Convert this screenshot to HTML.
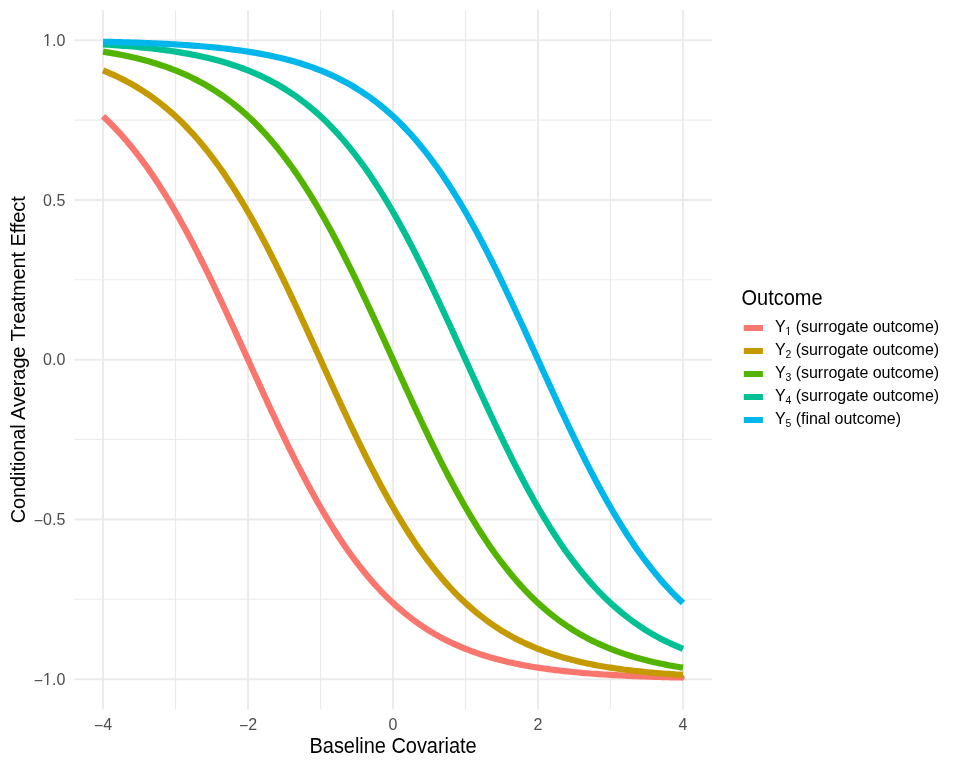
<!DOCTYPE html>
<html><head><meta charset="utf-8"><title>plot</title>
<style>
html,body{margin:0;padding:0;background:#fff;}
body{width:959px;height:767px;overflow:hidden;font-family:"Liberation Sans",sans-serif;}
svg{display:block;will-change:transform;font-variant-ligatures:none;font-kerning:normal;font-family:"Liberation Sans",sans-serif;}
.at{font-size:16px;fill:#4D4D4D;}
.ti{font-size:20px;fill:#000;}
.lt{font-size:16px;fill:#000;}
</style></head><body>
<svg width="959" height="767" viewBox="0 0 959 767">
<rect width="959" height="767" fill="#fff"/>

<g stroke="#EBEBEB" stroke-width="1.2" fill="none">
<line x1="175.54" y1="10.0" x2="175.54" y2="709.4"/>
<line x1="320.52" y1="10.0" x2="320.52" y2="709.4"/>
<line x1="465.50" y1="10.0" x2="465.50" y2="709.4"/>
<line x1="610.48" y1="10.0" x2="610.48" y2="709.4"/>
<line x1="74.1" y1="120.03" x2="712.0" y2="120.03"/>
<line x1="74.1" y1="279.77" x2="712.0" y2="279.77"/>
<line x1="74.1" y1="439.52" x2="712.0" y2="439.52"/>
<line x1="74.1" y1="599.27" x2="712.0" y2="599.27"/>
</g>
<g stroke="#EBEBEB" stroke-width="1.95" fill="none">
<line x1="103.05" y1="10.0" x2="103.05" y2="709.4"/>
<line x1="248.03" y1="10.0" x2="248.03" y2="709.4"/>
<line x1="393.01" y1="10.0" x2="393.01" y2="709.4"/>
<line x1="537.99" y1="10.0" x2="537.99" y2="709.4"/>
<line x1="682.97" y1="10.0" x2="682.97" y2="709.4"/>
<line x1="74.1" y1="40.15" x2="712.0" y2="40.15"/>
<line x1="74.1" y1="199.90" x2="712.0" y2="199.90"/>
<line x1="74.1" y1="359.65" x2="712.0" y2="359.65"/>
<line x1="74.1" y1="519.40" x2="712.0" y2="519.40"/>
<line x1="74.1" y1="679.15" x2="712.0" y2="679.15"/>
</g>
<g fill="none" stroke-width="6.2" stroke-linejoin="round" stroke-linecap="butt">
<polyline stroke="#F8766D" points="103.05,116.32 105.95,119.05 108.85,121.85 111.75,124.75 114.65,127.73 117.55,130.79 120.45,133.95 123.35,137.20 126.25,140.53 129.15,143.97 132.05,147.49 134.95,151.11 137.85,154.83 140.74,158.64 143.64,162.55 146.54,166.55 149.44,170.66 152.34,174.86 155.24,179.16 158.14,183.56 161.04,188.06 163.94,192.66 166.84,197.35 169.74,202.14 172.64,207.02 175.54,212.00 178.44,217.08 181.34,222.24 184.24,227.49 187.14,232.83 190.04,238.26 192.94,243.76 195.84,249.35 198.74,255.02 201.64,260.76 204.54,266.58 207.44,272.46 210.34,278.40 213.23,284.41 216.13,290.47 219.03,296.59 221.93,302.75 224.83,308.96 227.73,315.21 230.63,321.49 233.53,327.81 236.43,334.14 239.33,340.50 242.23,346.88 245.13,353.26 248.03,359.65 250.93,366.04 253.83,372.42 256.73,378.80 259.63,385.16 262.53,391.49 265.43,397.81 268.33,404.09 271.23,410.34 274.13,416.55 277.03,422.71 279.93,428.83 282.83,434.89 285.72,440.90 288.62,446.84 291.52,452.72 294.42,458.54 297.32,464.28 300.22,469.95 303.12,475.54 306.02,481.04 308.92,486.47 311.82,491.81 314.72,497.06 317.62,502.22 320.52,507.30 323.42,512.28 326.32,517.16 329.22,521.95 332.12,526.64 335.02,531.24 337.92,535.74 340.82,540.14 343.72,544.44 346.62,548.64 349.52,552.75 352.42,556.75 355.32,560.66 358.21,564.47 361.11,568.19 364.01,571.81 366.91,575.33 369.81,578.77 372.71,582.10 375.61,585.35 378.51,588.51 381.41,591.57 384.31,594.55 387.21,597.45 390.11,600.25 393.01,602.98 395.91,605.62 398.81,608.19 401.71,610.67 404.61,613.08 407.51,615.41 410.41,617.67 413.31,619.86 416.21,621.97 419.11,624.02 422.01,626.00 424.91,627.92 427.81,629.77 430.70,631.56 433.60,633.30 436.50,634.97 439.40,636.59 442.30,638.15 445.20,639.66 448.10,641.11 451.00,642.52 453.90,643.88 456.80,645.19 459.70,646.45 462.60,647.67 465.50,648.84 468.40,649.98 471.30,651.07 474.20,652.13 477.10,653.14 480.00,654.12 482.90,655.07 485.80,655.98 488.70,656.85 491.60,657.70 494.50,658.51 497.40,659.30 500.30,660.05 503.19,660.78 506.09,661.48 508.99,662.15 511.89,662.80 514.79,663.43 517.69,664.03 520.59,664.61 523.49,665.17 526.39,665.70 529.29,666.22 532.19,666.72 535.09,667.20 537.99,667.66 540.89,668.10 543.79,668.53 546.69,668.94 549.59,669.33 552.49,669.71 555.39,670.07 558.29,670.43 561.19,670.76 564.09,671.09 566.99,671.40 569.89,671.70 572.79,671.99 575.68,672.27 578.58,672.53 581.48,672.79 584.38,673.04 587.28,673.28 590.18,673.50 593.08,673.72 595.98,673.93 598.88,674.14 601.78,674.33 604.68,674.52 607.58,674.70 610.48,674.87 613.38,675.04 616.28,675.20 619.18,675.35 622.08,675.50 624.98,675.64 627.88,675.78 630.78,675.91 633.68,676.04 636.58,676.16 639.48,676.28 642.38,676.39 645.28,676.50 648.17,676.60 651.07,676.70 653.97,676.80 656.87,676.89 659.77,676.98 662.67,677.06 665.57,677.14 668.47,677.22 671.37,677.30 674.27,677.37 677.17,677.44 680.07,677.51 682.97,677.57"/>
<path d="M682.47,674.57 L683.57,674.97 L684.87,676.97 L684.17,679.77 L682.47,680.57 Z" fill="#F8766D" stroke="none"/>
<polyline stroke="#C49A00" points="103.05,70.46 105.95,71.63 108.85,72.85 111.75,74.11 114.65,75.42 117.55,76.78 120.45,78.19 123.35,79.64 126.25,81.15 129.15,82.71 132.05,84.33 134.95,86.00 137.85,87.74 140.74,89.53 143.64,91.38 146.54,93.30 149.44,95.28 152.34,97.33 155.24,99.44 158.14,101.63 161.04,103.89 163.94,106.22 166.84,108.63 169.74,111.11 172.64,113.68 175.54,116.32 178.44,119.05 181.34,121.85 184.24,124.75 187.14,127.73 190.04,130.79 192.94,133.95 195.84,137.20 198.74,140.53 201.64,143.97 204.54,147.49 207.44,151.11 210.34,154.83 213.23,158.64 216.13,162.55 219.03,166.55 221.93,170.66 224.83,174.86 227.73,179.16 230.63,183.56 233.53,188.06 236.43,192.66 239.33,197.35 242.23,202.14 245.13,207.02 248.03,212.00 250.93,217.08 253.83,222.24 256.73,227.49 259.63,232.83 262.53,238.26 265.43,243.76 268.33,249.35 271.23,255.02 274.13,260.76 277.03,266.58 279.93,272.46 282.83,278.40 285.72,284.41 288.62,290.47 291.52,296.59 294.42,302.75 297.32,308.96 300.22,315.21 303.12,321.49 306.02,327.81 308.92,334.14 311.82,340.50 314.72,346.88 317.62,353.26 320.52,359.65 323.42,366.04 326.32,372.42 329.22,378.80 332.12,385.16 335.02,391.49 337.92,397.81 340.82,404.09 343.72,410.34 346.62,416.55 349.52,422.71 352.42,428.83 355.32,434.89 358.21,440.90 361.11,446.84 364.01,452.72 366.91,458.54 369.81,464.28 372.71,469.95 375.61,475.54 378.51,481.04 381.41,486.47 384.31,491.81 387.21,497.06 390.11,502.22 393.01,507.30 395.91,512.28 398.81,517.16 401.71,521.95 404.61,526.64 407.51,531.24 410.41,535.74 413.31,540.14 416.21,544.44 419.11,548.64 422.01,552.75 424.91,556.75 427.81,560.66 430.70,564.47 433.60,568.19 436.50,571.81 439.40,575.33 442.30,578.77 445.20,582.10 448.10,585.35 451.00,588.51 453.90,591.57 456.80,594.55 459.70,597.45 462.60,600.25 465.50,602.98 468.40,605.62 471.30,608.19 474.20,610.67 477.10,613.08 480.00,615.41 482.90,617.67 485.80,619.86 488.70,621.97 491.60,624.02 494.50,626.00 497.40,627.92 500.30,629.77 503.19,631.56 506.09,633.30 508.99,634.97 511.89,636.59 514.79,638.15 517.69,639.66 520.59,641.11 523.49,642.52 526.39,643.88 529.29,645.19 532.19,646.45 535.09,647.67 537.99,648.84 540.89,649.98 543.79,651.07 546.69,652.13 549.59,653.14 552.49,654.12 555.39,655.07 558.29,655.98 561.19,656.85 564.09,657.70 566.99,658.51 569.89,659.30 572.79,660.05 575.68,660.78 578.58,661.48 581.48,662.15 584.38,662.80 587.28,663.43 590.18,664.03 593.08,664.61 595.98,665.17 598.88,665.70 601.78,666.22 604.68,666.72 607.58,667.20 610.48,667.66 613.38,668.10 616.28,668.53 619.18,668.94 622.08,669.33 624.98,669.71 627.88,670.07 630.78,670.43 633.68,670.76 636.58,671.09 639.48,671.40 642.38,671.70 645.28,671.99 648.17,672.27 651.07,672.53 653.97,672.79 656.87,673.04 659.77,673.28 662.67,673.50 665.57,673.72 668.47,673.93 671.37,674.14 674.27,674.33 677.17,674.52 680.07,674.70 682.97,674.87"/>
<polyline stroke="#53B400" points="103.05,51.64 105.95,52.10 108.85,52.58 111.75,53.08 114.65,53.60 117.55,54.13 120.45,54.69 123.35,55.27 126.25,55.87 129.15,56.50 132.05,57.15 134.95,57.82 137.85,58.52 140.74,59.25 143.64,60.00 146.54,60.79 149.44,61.60 152.34,62.45 155.24,63.32 158.14,64.23 161.04,65.18 163.94,66.16 166.84,67.17 169.74,68.23 172.64,69.32 175.54,70.46 178.44,71.63 181.34,72.85 184.24,74.11 187.14,75.42 190.04,76.78 192.94,78.19 195.84,79.64 198.74,81.15 201.64,82.71 204.54,84.33 207.44,86.00 210.34,87.74 213.23,89.53 216.13,91.38 219.03,93.30 221.93,95.28 224.83,97.33 227.73,99.44 230.63,101.63 233.53,103.89 236.43,106.22 239.33,108.63 242.23,111.11 245.13,113.68 248.03,116.32 250.93,119.05 253.83,121.85 256.73,124.75 259.63,127.73 262.53,130.79 265.43,133.95 268.33,137.20 271.23,140.53 274.13,143.97 277.03,147.49 279.93,151.11 282.83,154.83 285.72,158.64 288.62,162.55 291.52,166.55 294.42,170.66 297.32,174.86 300.22,179.16 303.12,183.56 306.02,188.06 308.92,192.66 311.82,197.35 314.72,202.14 317.62,207.02 320.52,212.00 323.42,217.08 326.32,222.24 329.22,227.49 332.12,232.83 335.02,238.26 337.92,243.76 340.82,249.35 343.72,255.02 346.62,260.76 349.52,266.58 352.42,272.46 355.32,278.40 358.21,284.41 361.11,290.47 364.01,296.59 366.91,302.75 369.81,308.96 372.71,315.21 375.61,321.49 378.51,327.81 381.41,334.14 384.31,340.50 387.21,346.88 390.11,353.26 393.01,359.65 395.91,366.04 398.81,372.42 401.71,378.80 404.61,385.16 407.51,391.49 410.41,397.81 413.31,404.09 416.21,410.34 419.11,416.55 422.01,422.71 424.91,428.83 427.81,434.89 430.70,440.90 433.60,446.84 436.50,452.72 439.40,458.54 442.30,464.28 445.20,469.95 448.10,475.54 451.00,481.04 453.90,486.47 456.80,491.81 459.70,497.06 462.60,502.22 465.50,507.30 468.40,512.28 471.30,517.16 474.20,521.95 477.10,526.64 480.00,531.24 482.90,535.74 485.80,540.14 488.70,544.44 491.60,548.64 494.50,552.75 497.40,556.75 500.30,560.66 503.19,564.47 506.09,568.19 508.99,571.81 511.89,575.33 514.79,578.77 517.69,582.10 520.59,585.35 523.49,588.51 526.39,591.57 529.29,594.55 532.19,597.45 535.09,600.25 537.99,602.98 540.89,605.62 543.79,608.19 546.69,610.67 549.59,613.08 552.49,615.41 555.39,617.67 558.29,619.86 561.19,621.97 564.09,624.02 566.99,626.00 569.89,627.92 572.79,629.77 575.68,631.56 578.58,633.30 581.48,634.97 584.38,636.59 587.28,638.15 590.18,639.66 593.08,641.11 595.98,642.52 598.88,643.88 601.78,645.19 604.68,646.45 607.58,647.67 610.48,648.84 613.38,649.98 616.28,651.07 619.18,652.13 622.08,653.14 624.98,654.12 627.88,655.07 630.78,655.98 633.68,656.85 636.58,657.70 639.48,658.51 642.38,659.30 645.28,660.05 648.17,660.78 651.07,661.48 653.97,662.15 656.87,662.80 659.77,663.43 662.67,664.03 665.57,664.61 668.47,665.17 671.37,665.70 674.27,666.22 677.17,666.72 680.07,667.20 682.97,667.66"/>
<polyline stroke="#00C094" points="103.05,44.43 105.95,44.60 108.85,44.78 111.75,44.97 114.65,45.16 117.55,45.37 120.45,45.58 123.35,45.80 126.25,46.02 129.15,46.26 132.05,46.51 134.95,46.77 137.85,47.03 140.74,47.31 143.64,47.60 146.54,47.90 149.44,48.21 152.34,48.54 155.24,48.87 158.14,49.23 161.04,49.59 163.94,49.97 166.84,50.36 169.74,50.77 172.64,51.20 175.54,51.64 178.44,52.10 181.34,52.58 184.24,53.08 187.14,53.60 190.04,54.13 192.94,54.69 195.84,55.27 198.74,55.87 201.64,56.50 204.54,57.15 207.44,57.82 210.34,58.52 213.23,59.25 216.13,60.00 219.03,60.79 221.93,61.60 224.83,62.45 227.73,63.32 230.63,64.23 233.53,65.18 236.43,66.16 239.33,67.17 242.23,68.23 245.13,69.32 248.03,70.46 250.93,71.63 253.83,72.85 256.73,74.11 259.63,75.42 262.53,76.78 265.43,78.19 268.33,79.64 271.23,81.15 274.13,82.71 277.03,84.33 279.93,86.00 282.83,87.74 285.72,89.53 288.62,91.38 291.52,93.30 294.42,95.28 297.32,97.33 300.22,99.44 303.12,101.63 306.02,103.89 308.92,106.22 311.82,108.63 314.72,111.11 317.62,113.68 320.52,116.32 323.42,119.05 326.32,121.85 329.22,124.75 332.12,127.73 335.02,130.79 337.92,133.95 340.82,137.20 343.72,140.53 346.62,143.97 349.52,147.49 352.42,151.11 355.32,154.83 358.21,158.64 361.11,162.55 364.01,166.55 366.91,170.66 369.81,174.86 372.71,179.16 375.61,183.56 378.51,188.06 381.41,192.66 384.31,197.35 387.21,202.14 390.11,207.02 393.01,212.00 395.91,217.08 398.81,222.24 401.71,227.49 404.61,232.83 407.51,238.26 410.41,243.76 413.31,249.35 416.21,255.02 419.11,260.76 422.01,266.58 424.91,272.46 427.81,278.40 430.70,284.41 433.60,290.47 436.50,296.59 439.40,302.75 442.30,308.96 445.20,315.21 448.10,321.49 451.00,327.81 453.90,334.14 456.80,340.50 459.70,346.88 462.60,353.26 465.50,359.65 468.40,366.04 471.30,372.42 474.20,378.80 477.10,385.16 480.00,391.49 482.90,397.81 485.80,404.09 488.70,410.34 491.60,416.55 494.50,422.71 497.40,428.83 500.30,434.89 503.19,440.90 506.09,446.84 508.99,452.72 511.89,458.54 514.79,464.28 517.69,469.95 520.59,475.54 523.49,481.04 526.39,486.47 529.29,491.81 532.19,497.06 535.09,502.22 537.99,507.30 540.89,512.28 543.79,517.16 546.69,521.95 549.59,526.64 552.49,531.24 555.39,535.74 558.29,540.14 561.19,544.44 564.09,548.64 566.99,552.75 569.89,556.75 572.79,560.66 575.68,564.47 578.58,568.19 581.48,571.81 584.38,575.33 587.28,578.77 590.18,582.10 593.08,585.35 595.98,588.51 598.88,591.57 601.78,594.55 604.68,597.45 607.58,600.25 610.48,602.98 613.38,605.62 616.28,608.19 619.18,610.67 622.08,613.08 624.98,615.41 627.88,617.67 630.78,619.86 633.68,621.97 636.58,624.02 639.48,626.00 642.38,627.92 645.28,629.77 648.17,631.56 651.07,633.30 653.97,634.97 656.87,636.59 659.77,638.15 662.67,639.66 665.57,641.11 668.47,642.52 671.37,643.88 674.27,645.19 677.17,646.45 680.07,647.67 682.97,648.84"/>
<polyline stroke="#00B6EB" points="103.05,41.73 105.95,41.79 108.85,41.86 111.75,41.93 114.65,42.00 117.55,42.08 120.45,42.16 123.35,42.24 126.25,42.32 129.15,42.41 132.05,42.50 134.95,42.60 137.85,42.70 140.74,42.80 143.64,42.91 146.54,43.02 149.44,43.14 152.34,43.26 155.24,43.39 158.14,43.52 161.04,43.66 163.94,43.80 166.84,43.95 169.74,44.10 172.64,44.26 175.54,44.43 178.44,44.60 181.34,44.78 184.24,44.97 187.14,45.16 190.04,45.37 192.94,45.58 195.84,45.80 198.74,46.02 201.64,46.26 204.54,46.51 207.44,46.77 210.34,47.03 213.23,47.31 216.13,47.60 219.03,47.90 221.93,48.21 224.83,48.54 227.73,48.87 230.63,49.23 233.53,49.59 236.43,49.97 239.33,50.36 242.23,50.77 245.13,51.20 248.03,51.64 250.93,52.10 253.83,52.58 256.73,53.08 259.63,53.60 262.53,54.13 265.43,54.69 268.33,55.27 271.23,55.87 274.13,56.50 277.03,57.15 279.93,57.82 282.83,58.52 285.72,59.25 288.62,60.00 291.52,60.79 294.42,61.60 297.32,62.45 300.22,63.32 303.12,64.23 306.02,65.18 308.92,66.16 311.82,67.17 314.72,68.23 317.62,69.32 320.52,70.46 323.42,71.63 326.32,72.85 329.22,74.11 332.12,75.42 335.02,76.78 337.92,78.19 340.82,79.64 343.72,81.15 346.62,82.71 349.52,84.33 352.42,86.00 355.32,87.74 358.21,89.53 361.11,91.38 364.01,93.30 366.91,95.28 369.81,97.33 372.71,99.44 375.61,101.63 378.51,103.89 381.41,106.22 384.31,108.63 387.21,111.11 390.11,113.68 393.01,116.32 395.91,119.05 398.81,121.85 401.71,124.75 404.61,127.73 407.51,130.79 410.41,133.95 413.31,137.20 416.21,140.53 419.11,143.97 422.01,147.49 424.91,151.11 427.81,154.83 430.70,158.64 433.60,162.55 436.50,166.55 439.40,170.66 442.30,174.86 445.20,179.16 448.10,183.56 451.00,188.06 453.90,192.66 456.80,197.35 459.70,202.14 462.60,207.02 465.50,212.00 468.40,217.08 471.30,222.24 474.20,227.49 477.10,232.83 480.00,238.26 482.90,243.76 485.80,249.35 488.70,255.02 491.60,260.76 494.50,266.58 497.40,272.46 500.30,278.40 503.19,284.41 506.09,290.47 508.99,296.59 511.89,302.75 514.79,308.96 517.69,315.21 520.59,321.49 523.49,327.81 526.39,334.14 529.29,340.50 532.19,346.88 535.09,353.26 537.99,359.65 540.89,366.04 543.79,372.42 546.69,378.80 549.59,385.16 552.49,391.49 555.39,397.81 558.29,404.09 561.19,410.34 564.09,416.55 566.99,422.71 569.89,428.83 572.79,434.89 575.68,440.90 578.58,446.84 581.48,452.72 584.38,458.54 587.28,464.28 590.18,469.95 593.08,475.54 595.98,481.04 598.88,486.47 601.78,491.81 604.68,497.06 607.58,502.22 610.48,507.30 613.38,512.28 616.28,517.16 619.18,521.95 622.08,526.64 624.98,531.24 627.88,535.74 630.78,540.14 633.68,544.44 636.58,548.64 639.48,552.75 642.38,556.75 645.28,560.66 648.17,564.47 651.07,568.19 653.97,571.81 656.87,575.33 659.77,578.77 662.67,582.10 665.57,585.35 668.47,588.51 671.37,591.57 674.27,594.55 677.17,597.45 680.07,600.25 682.97,602.98"/>
</g>
<text class="at" x="65.3" y="45.75" text-anchor="end">1.0</text>
<text class="at" x="65.3" y="205.50" text-anchor="end">0.5</text>
<text class="at" x="65.3" y="365.25" text-anchor="end">0.0</text>
<text class="at" x="65.3" y="525.00" text-anchor="end"><tspan dy="1.4">−</tspan><tspan dy="-1.4">0.5</tspan></text>
<text class="at" x="65.3" y="684.75" text-anchor="end"><tspan dy="1.4">−</tspan><tspan dy="-1.4">1.0</tspan></text>
<text class="at" x="103.05" y="730" text-anchor="middle"><tspan dy="1.4">−</tspan><tspan dy="-1.4">4</tspan></text>
<text class="at" x="248.03" y="730" text-anchor="middle"><tspan dy="1.4">−</tspan><tspan dy="-1.4">2</tspan></text>
<text class="at" x="393.01" y="730" text-anchor="middle">0</text>
<text class="at" x="537.99" y="730" text-anchor="middle">2</text>
<text class="at" x="682.97" y="730" text-anchor="middle">4</text>
<text class="ti" transform="translate(393.1,752.8) scale(1,1.075)" text-anchor="middle" textLength="167.2" lengthAdjust="spacing">Baseline Covariate</text>
<text class="ti" transform="translate(24.7,359.8) rotate(-90) scale(1,1.055)" text-anchor="middle" textLength="327" lengthAdjust="spacing">Conditional Average Treatment Effect</text>
<text class="ti" transform="translate(741.5,304.8) scale(1,1.085)">Outcome</text>
<line x1="743.8" y1="328" x2="762.9" y2="328" stroke="#F8766D" stroke-width="6"/>
<text class="lt" x="774.9" y="332">Y<tspan font-size="10.4px" dy="3">1</tspan><tspan dy="-3" letter-spacing="-0.04"> (surrogate outcome)</tspan></text>
<line x1="743.8" y1="351" x2="762.9" y2="351" stroke="#C49A00" stroke-width="6"/>
<text class="lt" x="774.9" y="355">Y<tspan font-size="10.4px" dy="3">2</tspan><tspan dy="-3" letter-spacing="-0.04"> (surrogate outcome)</tspan></text>
<line x1="743.8" y1="374" x2="762.9" y2="374" stroke="#53B400" stroke-width="6"/>
<text class="lt" x="774.9" y="378">Y<tspan font-size="10.4px" dy="3">3</tspan><tspan dy="-3" letter-spacing="-0.04"> (surrogate outcome)</tspan></text>
<line x1="743.8" y1="397" x2="762.9" y2="397" stroke="#00C094" stroke-width="6"/>
<text class="lt" x="774.9" y="401">Y<tspan font-size="10.4px" dy="3">4</tspan><tspan dy="-3" letter-spacing="-0.04"> (surrogate outcome)</tspan></text>
<line x1="743.8" y1="420" x2="762.9" y2="420" stroke="#00B6EB" stroke-width="6"/>
<text class="lt" x="774.9" y="424">Y<tspan font-size="10.4px" dy="3">5</tspan><tspan dy="-3" letter-spacing="-0.04"> (final outcome)</tspan></text>
<rect x="43.5" y="43.6" width="3.5" height="2.5" fill="#fff"/>
<rect x="48.45" y="43.6" width="3.5" height="2.5" fill="#fff"/>
<rect x="43.5" y="682.6" width="3.5" height="2.5" fill="#fff"/>
<rect x="48.45" y="682.6" width="3.5" height="2.5" fill="#fff"/>
<rect x="785.5" y="333.5" width="2.5" height="1.8" fill="#fff"/>
<rect x="789.0" y="333.5" width="2.5" height="1.8" fill="#fff"/>
</svg></body></html>
